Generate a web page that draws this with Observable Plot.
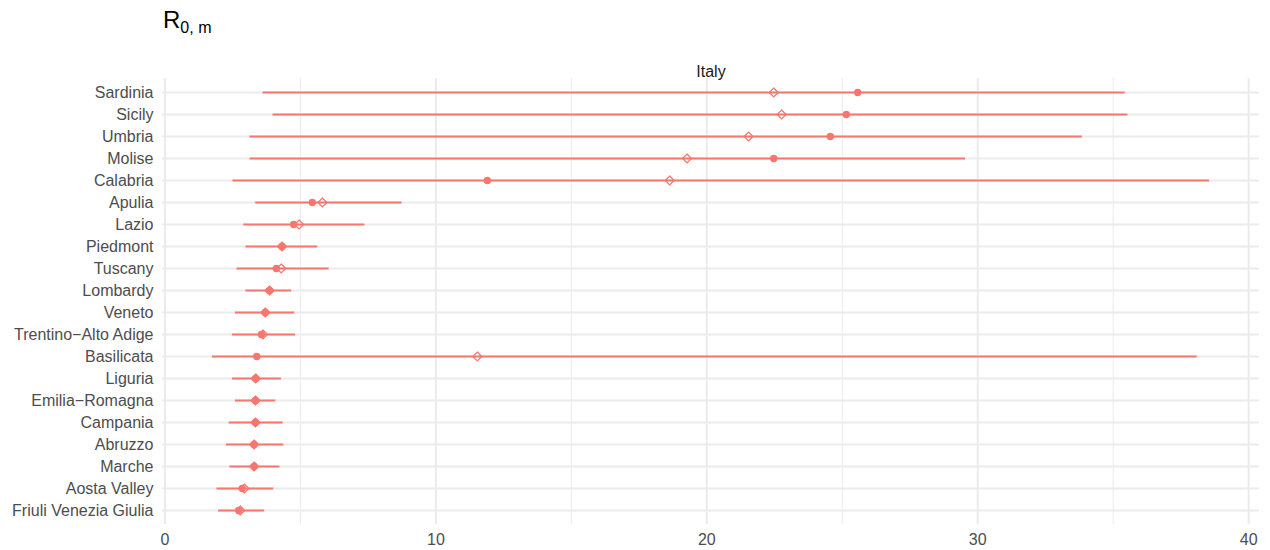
<!DOCTYPE html>
<html><head><meta charset="utf-8">
<script src="https://cdn.jsdelivr.net/npm/d3@7"></script>
<script src="https://cdn.jsdelivr.net/npm/@observablehq/plot@0.6"></script>
<style>
body{margin:0;background:#fff;font-family:"Liberation Sans",Arial,sans-serif;}
#title{height:50px;box-sizing:border-box;padding:8px 0 0 163px;font-size:24px;line-height:24px;color:#000;white-space:nowrap;}
#title sub{font-size:16px;vertical-align:baseline;position:relative;top:5px;}
</style></head><body>
<div id="title">R<sub>0, m</sub></div>
<div id="chart"></div>
<script>
const regions = ["Sardinia","Sicily","Umbria","Molise","Calabria","Apulia","Lazio","Piedmont","Tuscany","Lombardy","Veneto","Trentino\u2212Alto Adige","Basilicata","Liguria","Emilia\u2212Romagna","Campania","Abruzzo","Marche","Aosta Valley","Friuli Venezia Giulia"];
const lower    = [3.62, 3.99, 3.14, 3.14, 2.51, 3.35, 2.91, 2.99, 2.66, 2.99, 2.60, 2.49, 1.75, 2.49, 2.60, 2.37, 2.27, 2.40, 1.92, 1.98];
const upper    = [35.44, 35.54, 33.86, 29.55, 38.56, 8.75, 7.38, 5.64, 6.06, 4.68, 4.79, 4.82, 38.10, 4.30, 4.09, 4.36, 4.39, 4.24, 4.02, 3.68];
const pointEst = [25.57, 25.15, 24.56, 22.47, 11.90, 5.44, 4.75, 4.32, 4.11, 3.86, 3.70, 3.56, 3.39, 3.35, 3.34, 3.34, 3.29, 3.29, 2.85, 2.72];
const meanEst  = [22.47, 22.76, 21.54, 19.27, 18.63, 5.81, 4.95, 4.32, 4.29, 3.86, 3.70, 3.62, 11.53, 3.35, 3.34, 3.34, 3.29, 3.29, 2.93, 2.78];
const majorTicks = [0, 10, 20, 30, 40];
const minorTicks = [5, 15, 25, 35];
const facetLabel = ["Italy"];

const red = "#F8766D";
const data = regions.map((r, i) => ({region: r, lo: lower[i], hi: upper[i], pt: pointEst[i], mn: meanEst[i]}));
const dmin = d3.min(lower), dmax = d3.max(upper), pad = (dmax - dmin) * 0.05;

const chart = Plot.plot({
  width: 1270, height: 500,
  marginTop: 28, marginBottom: 26, marginLeft: 162, marginRight: 11,
  style: {fontFamily: '"Liberation Sans", Arial, sans-serif', fontSize: "16px", color: "#4d4d4d", background: "#fff"},
  x: {domain: [dmin - pad, dmax + pad]},
  y: {type: "point", domain: regions, padding: 0.6},
  marks: [
    Plot.ruleX(minorTicks, {stroke: "#ebebeb", strokeWidth: 1}),
    Plot.ruleX(majorTicks, {stroke: "#ebebeb", strokeWidth: 2}),
    Plot.ruleY(regions, {stroke: "#ebebeb", strokeWidth: 2}),
    Plot.axisX({ticks: majorTicks, tickSize: 0, tickPadding: 9, label: null, fill: "#4d4d4d", fontSize: 16}),
    Plot.axisY({tickSize: 0, tickPadding: 9, label: null, fill: "#4d4d4d", fontSize: 16}),
    Plot.ruleY(data, {y: "region", x1: "lo", x2: "hi", stroke: red, strokeWidth: 2.2}),
    Plot.dot(data, {x: "mn", y: "region", symbol: "diamond2", r: 4, stroke: red, strokeWidth: 1.3, fill: "none"}),
    Plot.dot(data, {x: "pt", y: "region", r: 3.7, fill: red, stroke: "none"}),
    Plot.text(facetLabel, {text: d => d, frameAnchor: "top", dy: -13, fill: "#1a1a1a", fontSize: 16})
  ]
});
document.getElementById("chart").appendChild(chart);
</script>
</body></html>
